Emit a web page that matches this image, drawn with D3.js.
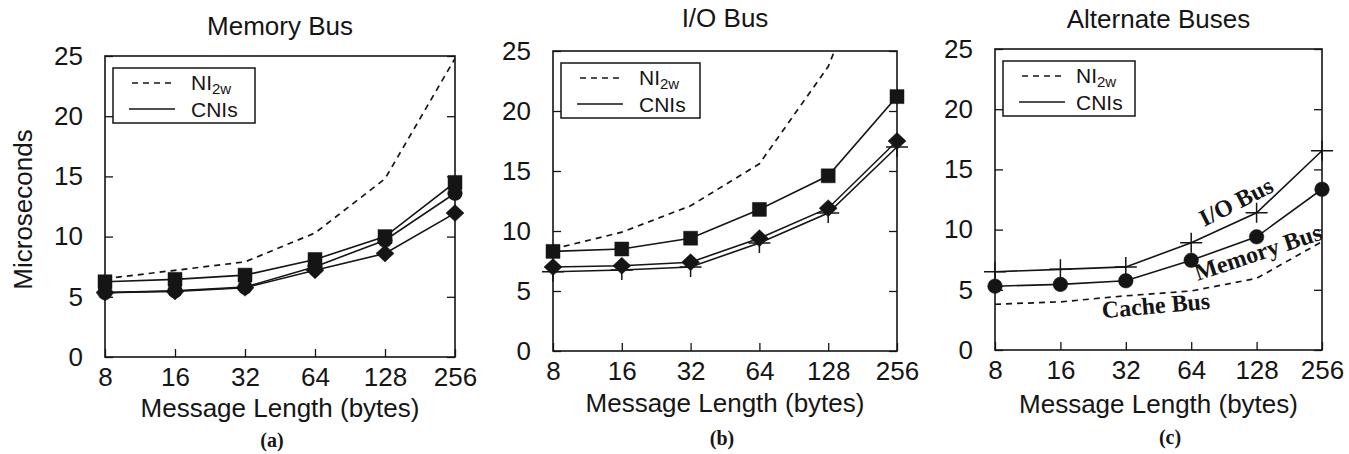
<!DOCTYPE html>
<html>
<head>
<meta charset="utf-8">
<script src="https://cdn.jsdelivr.net/npm/d3@7/dist/d3.min.js"></script>
<style>
  html, body { margin: 0; padding: 0; background: #fff; }
  svg { display: block; }
</style>
</head>
<body>
<svg id="chart" width="1349" height="454"></svg>
<script>
// ---------------- data ----------------
const messageLengths = [8, 16, 32, 64, 128, 256];
const yTickValues = [0, 5, 10, 15, 20, 25];
const panelTitles = ["Memory Bus", "I/O Bus", "Alternate Buses"];
const panelCaptions = ["(a)", "(b)", "(c)"];
const xAxisLabel = "Message Length (bytes)";
const yAxisLabel = "Microseconds";
const legendLabels = ["NI", "CNIs"];
const legendSub = "2w";

// (a) Memory Bus
const memNI2w    = [6.5, 7.2, 7.9, 10.3, 14.8, 24.8];
const memSquare  = [6.25, 6.45, 6.8, 8.1, 10.0, 14.5];
const memCircle  = [5.35, 5.5, 5.8, 7.5, 9.7, 13.6];
const memDiamond = [5.35, 5.45, 5.75, 7.2, 8.6, 11.95];

// (b) I/O Bus
const ioNI2w    = [8.5, 9.9, 12.1, 15.6, 23.7, 38];
const ioSquare  = [8.3, 8.5, 9.4, 11.8, 14.6, 21.2];
const ioDiamond = [7.0, 7.1, 7.4, 9.4, 11.9, 17.5];
const ioPlus    = [6.6, 6.75, 7.0, 9.0, 11.5, 17.0];

// (c) Alternate Buses
const altIOPlus     = [6.5, 6.7, 6.9, 8.9, 11.4, 16.55];
const altMemCircle  = [5.3, 5.45, 5.75, 7.45, 9.4, 13.35];
const altCacheNI2w  = [3.8, 4.0, 4.5, 4.9, 5.95, 9.0];

// annotations in panel (c): [text, x (bytes), y (us), angle]
const altLabels = [
  ["I/O Bus", 103, 12.3, -27],
  ["Memory Bus", 130, 8.1, -18.5],
  ["Cache Bus", 44, 3.7, -5]
];

// ---------------- layout ----------------
const panels = [
  { x0: 105, x1: 455, y0: 56, y1: 357, titleY: 35, labelY: 417, capX: 272, capY: 447, legW: 142,
    series: [
      { v: memNI2w, dashed: true },
      { v: memSquare, m: "square" },
      { v: memCircle, m: "circle" },
      { v: memDiamond, m: "diamond" }
    ], ylabel: true },
  { x0: 553, x1: 897, y0: 51, y1: 351, titleY: 27, labelY: 412, capX: 722, capY: 445, legW: 139,
    series: [
      { v: ioNI2w, dashed: true },
      { v: ioSquare, m: "square" },
      { v: ioPlus, m: "plus" },
      { v: ioDiamond, m: "diamond" }
    ] },
  { x0: 995, x1: 1322, y0: 49, y1: 350, titleY: 28, labelY: 413, capX: 1170, capY: 444, legW: 132,
    series: [
      { v: altCacheNI2w, dashed: true },
      { v: altIOPlus, m: "plus" },
      { v: altMemCircle, m: "circle" }
    ], annotations: altLabels }
];

const INK = "#151515";
const SANS = "'Liberation Sans', Arial, Helvetica, sans-serif";
const SERIF = "'Liberation Serif', 'Times New Roman', serif";

const svg = d3.select("#chart");

function markerPath(type) {
  switch (type) {
    case "square": return "M-7,-7H7V7H-7Z";
    case "diamond": return "M0,-8.5L9,0L0,8.5L-9,0Z";
    case "circle": return d3.symbol(d3.symbolCircle, Math.PI * 7.3 * 7.3)();
    case "plus": return "M-11,0H11M0,-10V10";
  }
}

panels.forEach((p, i) => {
  const x = d3.scaleLog().base(2).domain([8, 256]).range([p.x0, p.x1]);
  const y = d3.scaleLinear().domain([0, 25]).range([p.y1, p.y0]);
  const g = svg.append("g");

  // clip for lines
  const clipId = "clip" + i;
  svg.append("defs").append("clipPath").attr("id", clipId)
    .append("rect").attr("x", p.x0).attr("y", p.y0)
    .attr("width", p.x1 - p.x0).attr("height", p.y1 - p.y0);

  // axes (inward ticks)
  const left = g.append("g").attr("transform", `translate(${p.x0},0)`)
    .call(d3.axisLeft(y).tickValues(yTickValues).tickSizeInner(-8).tickSizeOuter(0).tickPadding(22));
  const right = g.append("g").attr("transform", `translate(${p.x1},0)`)
    .call(d3.axisRight(y).tickValues(yTickValues).tickSizeInner(-8).tickSizeOuter(0).tickFormat(""));
  const bottom = g.append("g").attr("transform", `translate(0,${p.y1})`)
    .call(d3.axisBottom(x).tickValues(messageLengths).tickFormat(d3.format("d"))
      .tickSizeInner(-8).tickSizeOuter(0).tickPadding(11));
  [left, right, bottom].forEach(a => {
    a.select(".domain").remove();
    a.selectAll("line").attr("stroke", INK).attr("stroke-width", 1.3);
    a.selectAll("text").attr("fill", INK).style("font-family", SANS).style("font-size", "26px");
  });

  // frame
  g.append("rect").attr("x", p.x0).attr("y", p.y0)
    .attr("width", p.x1 - p.x0).attr("height", p.y1 - p.y0)
    .attr("fill", "none").attr("stroke", INK).attr("stroke-width", 1.6);

  // series lines
  const line = d3.line().x((d, k) => x(messageLengths[k])).y(d => y(d));
  const lines = g.append("g").attr("clip-path", `url(#${clipId})`);
  p.series.forEach(s => {
    lines.append("path").attr("d", line(s.v))
      .attr("fill", "none").attr("stroke", INK)
      .attr("stroke-width", s.dashed ? 1.7 : 1.6)
      .attr("stroke-dasharray", s.dashed ? "6,5" : null);
  });
  // markers
  p.series.filter(s => s.m).forEach(s => {
    g.append("g").selectAll("path").data(s.v).join("path")
      .attr("transform", (d, k) => `translate(${x(messageLengths[k])},${y(d)})`)
      .attr("d", markerPath(s.m))
      .attr("fill", s.m === "plus" ? "none" : INK)
      .attr("stroke", INK)
      .attr("stroke-width", s.m === "plus" ? 1.5 : 0.5);
  });

  // annotations
  if (p.annotations) {
    p.annotations.forEach(([t, ax, ay, ang]) => {
      g.append("text")
        .attr("transform", `translate(${x(ax)},${y(ay)}) rotate(${ang})`)
        .attr("text-anchor", "middle").attr("dominant-baseline", "central")
        .style("font-family", SERIF).style("font-weight", "bold").style("font-size", "24px")
        .attr("fill", INK).text(t);
    });
  }

  // legend
  const L = p.x0 + 8, T = p.y0 + 12;
  const leg = g.append("g");
  leg.append("rect").attr("x", L).attr("y", T).attr("width", p.legW).attr("height", 55)
    .attr("fill", "#fff").attr("stroke", INK).attr("stroke-width", 1.5);
  leg.append("line").attr("x1", L + 19).attr("x2", L + 62).attr("y1", T + 15).attr("y2", T + 15)
    .attr("stroke", INK).attr("stroke-width", 1.5).attr("stroke-dasharray", "6,5");
  leg.append("line").attr("x1", L + 16).attr("x2", L + 62).attr("y1", T + 41).attr("y2", T + 41)
    .attr("stroke", INK).attr("stroke-width", 1.5);
  const tx = L + (i === 2 ? 73 : 78);
  const t1 = leg.append("text").attr("x", tx).attr("y", T + 22)
    .style("font-family", SANS).style("font-size", "21px").attr("fill", INK);
  t1.append("tspan").text(legendLabels[0]);
  t1.append("tspan").attr("dy", 4).style("font-size", "15px").text(legendSub);
  leg.append("text").attr("x", tx).attr("y", T + 49)
    .style("font-family", SANS).style("font-size", "21px").attr("fill", INK).text(legendLabels[1]);

  // title
  g.append("text").attr("x", (p.x0 + p.x1) / 2).attr("y", p.titleY)
    .attr("text-anchor", "middle").style("font-family", SANS).style("font-size", "26px")
    .attr("fill", INK).text(panelTitles[i]);
  // x label
  g.append("text").attr("x", (p.x0 + p.x1) / 2).attr("y", p.labelY)
    .attr("text-anchor", "middle").style("font-family", SANS).style("font-size", "26px")
    .attr("fill", INK).text(xAxisLabel);
  // caption
  g.append("text").attr("x", p.capX).attr("y", p.capY)
    .attr("text-anchor", "middle").style("font-family", SERIF).style("font-weight", "bold")
    .style("font-size", "20px").attr("fill", INK).text(panelCaptions[i]);
  // y label
  if (p.ylabel) {
    g.append("text").attr("transform", `translate(23,${(p.y0 + p.y1) / 2 + 3}) rotate(-90)`)
      .attr("text-anchor", "middle").attr("dominant-baseline", "central")
      .style("font-family", SANS).style("font-size", "26px").attr("fill", INK).text(yAxisLabel);
  }
});
</script>
</body>
</html>
